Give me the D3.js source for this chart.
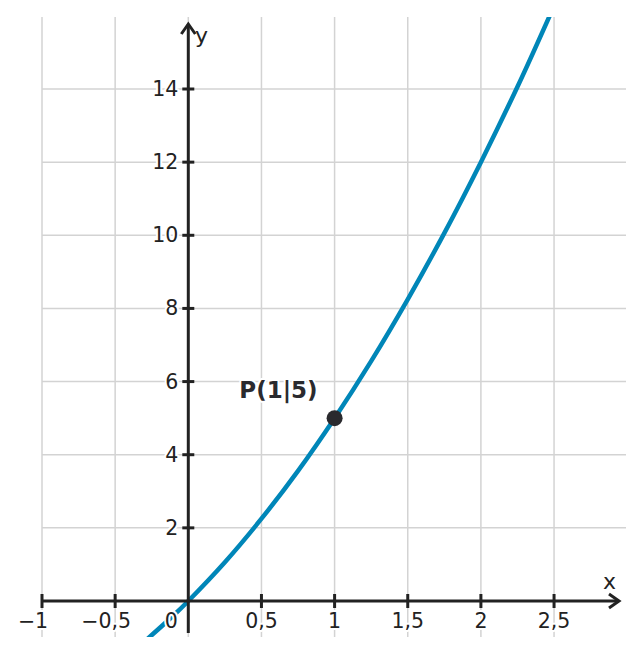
<!DOCTYPE html>
<html><head><meta charset="utf-8">
<script src="https://cdn.jsdelivr.net/npm/d3@7"></script>
<style>body{margin:0;background:#fff}svg{display:block}text{font-family:"DejaVu Sans",sans-serif}
.lbl{paint-order:stroke;stroke:#fff;stroke-width:4px;stroke-linejoin:round}</style>
</head><body><svg id="c" width="643" height="656"></svg>
<script>
const xTicks = [-1,-0.5,0,0.5,1,1.5,2,2.5];
const xTickLabels = ["\u22121","\u22120,5","0","0,5","1","1,5","2","2,5"];
const yTicks = [2,4,6,8,10,12,14];
const yTickLabels = ["2","4","6","8","10","12","14"];
const curveX = [-0.28,-0.1,0,0.25,0.5,0.75,1,1.25,1.5,1.75,2,2.25,2.47];
const curveY = [-1.04,-0.39,0,1.06,2.25,3.56,5,6.56,8.25,10.06,12,14.06,16.0];
const point = {x:1, y:5, label:"P(1|5)"};

const svg = d3.select("#c");
const x = d3.scaleLinear().domain([-1,3]).range([42,627.2]);
const y = d3.scaleLinear().domain([0,14]).range([601,89]);
const gridCol = "#d3d3d3", axisCol = "#222";

svg.append("g").selectAll("line").data(xTicks).join("line")
  .attr("x1",d=>x(d)).attr("x2",d=>x(d)).attr("y1",17).attr("y2",637)
  .attr("stroke",gridCol).attr("stroke-width",1.5);
svg.append("g").selectAll("line").data(yTicks).join("line")
  .attr("x1",42).attr("x2",626).attr("y1",d=>y(d)).attr("y2",d=>y(d))
  .attr("stroke",gridCol).attr("stroke-width",1.5);

svg.append("clipPath").attr("id","clip").append("rect").attr("x",0).attr("y",17).attr("width",643).attr("height",620);
const pts = curveX.map((d,i)=>[d,curveY[i]]);
svg.append("path").datum(pts).attr("clip-path","url(#clip)")
  .attr("d",d3.line().x(d=>x(d[0])).y(d=>y(d[1])).curve(d3.curveCatmullRom))
  .attr("fill","none").attr("stroke","#0086b8").attr("stroke-width",4.5);

svg.append("line").attr("x1",x(-1)).attr("x2",619).attr("y1",y(0)).attr("y2",y(0)).attr("stroke",axisCol).attr("stroke-width",3);
svg.append("path").attr("d",`M${609},${y(0)-7} L${619},${y(0)} L${609},${y(0)+7}`).attr("fill","none").attr("stroke",axisCol).attr("stroke-width",3);
svg.append("line").attr("x1",x(0)).attr("x2",x(0)).attr("y1",633).attr("y2",24).attr("stroke",axisCol).attr("stroke-width",3);
svg.append("path").attr("d",`M${x(0)-7},${34} L${x(0)},${24} L${x(0)+7},${34}`).attr("fill","none").attr("stroke",axisCol).attr("stroke-width",3);

svg.append("g").selectAll("line").data(xTicks.filter(d=>d!==0)).join("line")
  .attr("x1",d=>x(d)).attr("x2",d=>x(d)).attr("y1",y(0)-7).attr("y2",y(0)+7).attr("stroke",axisCol).attr("stroke-width",3);
svg.append("g").selectAll("text").data(xTicks).join("text").attr("class","lbl")
  .attr("x",(d)=>d===0?x(d)-17:(d<0?x(d)-9:x(d))).attr("y",628).attr("text-anchor","middle")
  .attr("font-size",20.5).attr("fill",axisCol).text((d,i)=>xTickLabels[i]);
svg.append("g").selectAll("line").data(yTicks).join("line")
  .attr("x1",x(0)-6).attr("x2",x(0)+6).attr("y1",d=>y(d)).attr("y2",d=>y(d)).attr("stroke",axisCol).attr("stroke-width",3);
svg.append("g").selectAll("text").data(yTicks).join("text").attr("class","lbl")
  .attr("x",x(0)-10).attr("y",d=>y(d)+7).attr("text-anchor","end")
  .attr("font-size",20.5).attr("fill",axisCol).text((d,i)=>yTickLabels[i]);

svg.append("text").attr("x",603).attr("y",589).attr("font-size",22).attr("fill",axisCol).text("x");
svg.append("text").attr("x",195).attr("y",43).attr("font-size",22).attr("fill",axisCol).text("y");

svg.append("circle").attr("cx",x(point.x)).attr("cy",y(point.y)).attr("r",8).attr("fill","#2a2a2e");
svg.append("text").attr("class","lbl").attr("x",x(point.x)-17).attr("y",y(point.y)-20).attr("text-anchor","end")
  .attr("font-size",23).attr("font-weight","bold").attr("fill","#2a2a2e").text(point.label);
</script></body></html>
